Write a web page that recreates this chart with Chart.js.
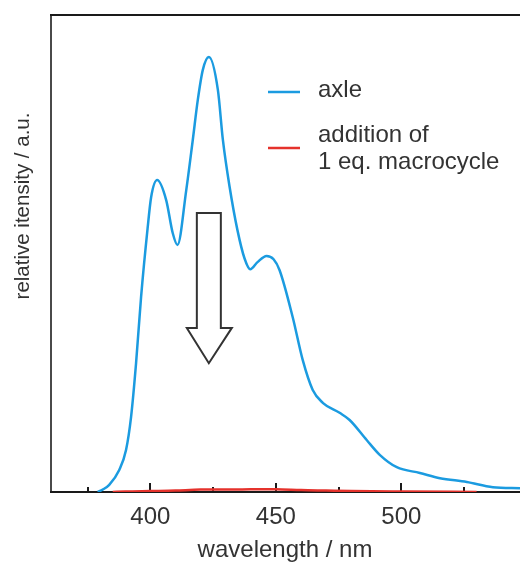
<!DOCTYPE html>
<html>
<head>
<meta charset="utf-8">
<title>Emission spectrum</title>
<style>
  body { margin: 0; background: #ffffff; }
  #chart { display: block; }
</style>
</head>
<body>
<canvas id="chart" width="520" height="564"></canvas>
<script src="https://cdn.jsdelivr.net/npm/chart.js"></script>
<script>
// free axle: wavelength (nm) and relative intensity
var axleNm = [379, 381, 383.6, 387.6, 390.3, 392.3, 394.3, 396.3, 398.9, 400.3, 402.7, 406.3, 408.9, 410.8,
  414.3, 416.9, 418.9, 420.9, 423.3, 426.9, 428.9, 431.5, 434.7, 437.5, 439.8, 442.7, 446.3, 449.1, 451.5,
  456.7, 460.7, 464.7, 468.7, 475.4, 479.4, 486.2, 491.4, 498.2, 507.4, 515.4, 526.1, 536.5, 547.3];
var axleInt = [0, 0.005, 0.015, 0.046, 0.088, 0.157, 0.270, 0.409, 0.553, 0.618, 0.654, 0.612, 0.543, 0.518,
  0.633, 0.738, 0.822, 0.885, 0.912, 0.843, 0.738, 0.642, 0.549, 0.490, 0.467, 0.482, 0.495, 0.488, 0.465,
  0.367, 0.277, 0.214, 0.187, 0.166, 0.151, 0.109, 0.078, 0.052, 0.040, 0.029, 0.021, 0.010, 0.008];

// same solution after adding 1 eq. of macrocycle
var macroNm = [385, 390, 400, 410, 420, 430, 440, 450, 460, 470, 480, 500, 530];
var macroInt = [0, 0.001, 0.002, 0.003, 0.005, 0.005, 0.006, 0.006, 0.004, 0.003, 0.002, 0.001, 0];

var tickNm = [375, 400, 425, 450, 475, 500, 525];
var labelNm = [400, 450, 500];
var seriesNames = ['axle', 'addition of\n1 eq. macrocycle'];
var seriesColors = ['#1b9be0', '#e5322c'];

var FONT = '"Liberation Sans", Arial, sans-serif';
var INK = '#333333';

function pairs(xs, ys) {
  return xs.map(function (x, i) { return { x: x, y: ys[i] }; });
}

// frame with inward ticks, y title, legend and the down arrow
var decorations = {
  id: 'decorations',
  beforeDatasetsDraw: function (chart) {
    var ctx = chart.ctx, a = chart.chartArea, x = chart.scales.x;
    ctx.save();
    ctx.lineWidth = 2;
    ctx.strokeStyle = '#4a4a4a';
    ctx.beginPath();
    ctx.moveTo(a.left + 1, a.bottom);
    ctx.lineTo(a.left + 1, a.top);
    ctx.stroke();
    ctx.strokeStyle = '#1a1a1a';
    ctx.beginPath();
    ctx.moveTo(a.left, a.top);
    ctx.lineTo(a.right, a.top);
    ctx.moveTo(a.left, a.bottom);
    ctx.lineTo(a.right, a.bottom);
    tickNm.forEach(function (v) {
      var px = Math.round(x.getPixelForValue(v));
      var len = labelNm.indexOf(v) >= 0 ? 9 : 5;
      ctx.moveTo(px, a.bottom);
      ctx.lineTo(px, a.bottom - len);
    });
    ctx.stroke();
    ctx.restore();
  },
  afterDatasetsDraw: function (chart) {
    var ctx = chart.ctx, x = chart.scales.x, y = chart.scales.y;
    ctx.save();

    // arrow over the main band
    var cx = x.getPixelForValue(423.3);
    var top = y.getPixelForValue(0.585);
    var base = y.getPixelForValue(0.344);
    var tip = y.getPixelForValue(0.27);
    ctx.beginPath();
    ctx.moveTo(cx - 12, top);
    ctx.lineTo(cx + 12, top);
    ctx.lineTo(cx + 12, base);
    ctx.lineTo(cx + 23, base);
    ctx.lineTo(cx, tip);
    ctx.lineTo(cx - 22, base);
    ctx.lineTo(cx - 12, base);
    ctx.closePath();
    ctx.fillStyle = '#ffffff';
    ctx.fill();
    ctx.strokeStyle = '#333333';
    ctx.lineWidth = 2;
    ctx.stroke();

    // legend
    ctx.fillStyle = INK;
    ctx.font = '24px ' + FONT;
    ctx.textBaseline = 'middle';
    ctx.textAlign = 'left';
    var rows = [{ lineY: 92, textY: [90] }, { lineY: 148, textY: [135, 162] }];
    rows.forEach(function (r, i) {
      ctx.strokeStyle = seriesColors[i];
      ctx.lineWidth = 2.5;
      ctx.beginPath();
      ctx.moveTo(268, r.lineY);
      ctx.lineTo(300, r.lineY);
      ctx.stroke();
      seriesNames[i].split('\n').forEach(function (t, j) {
        ctx.fillText(t, 318, r.textY[j]);
      });
    });

    // y axis title
    ctx.translate(23, 206);
    ctx.rotate(-Math.PI / 2);
    ctx.font = '20.5px ' + FONT;
    ctx.textAlign = 'center';
    ctx.fillText('relative itensity / a.u.', 0, 0);
    ctx.restore();
  }
};

new Chart(document.getElementById('chart'), {
  type: 'line',
  data: {
    datasets: [
      {
        label: seriesNames[0],
        data: pairs(axleNm, axleInt),
        borderColor: seriesColors[0],
        borderWidth: 2.5,
        pointRadius: 0,
        cubicInterpolationMode: 'monotone',
        fill: false
      },
      {
        label: seriesNames[1],
        data: pairs(macroNm, macroInt),
        borderColor: seriesColors[1],
        borderWidth: 2.5,
        pointRadius: 0,
        cubicInterpolationMode: 'monotone',
        fill: false
      }
    ]
  },
  options: {
    responsive: false,
    animation: false,
    layout: { padding: { top: 15, right: 0, bottom: 0, left: 0 } },
    plugins: {
      legend: { display: false },
      tooltip: { enabled: false }
    },
    scales: {
      x: {
        type: 'linear',
        min: 360,
        max: 547.3,
        grid: { display: false, drawTicks: false },
        border: { display: false },
        afterBuildTicks: function (s) {
          s.ticks = labelNm.map(function (v) { return { value: v }; });
        },
        ticks: {
          color: INK,
          padding: 11,
          maxRotation: 0,
          font: { family: FONT, size: 24 }
        },
        title: {
          display: true,
          text: 'wavelength / nm',
          color: INK,
          font: { family: FONT, size: 24, lineHeight: 1.1 },
          padding: { top: 0, bottom: 0 }
        },
        afterFit: function (s) { s.height = 72; }
      },
      y: {
        min: 0,
        max: 1,
        grid: { display: false, drawTicks: false },
        border: { display: false },
        ticks: { display: false },
        afterFit: function (s) { s.width = 50; }
      }
    }
  },
  plugins: [decorations]
});
</script>
</body>
</html>
